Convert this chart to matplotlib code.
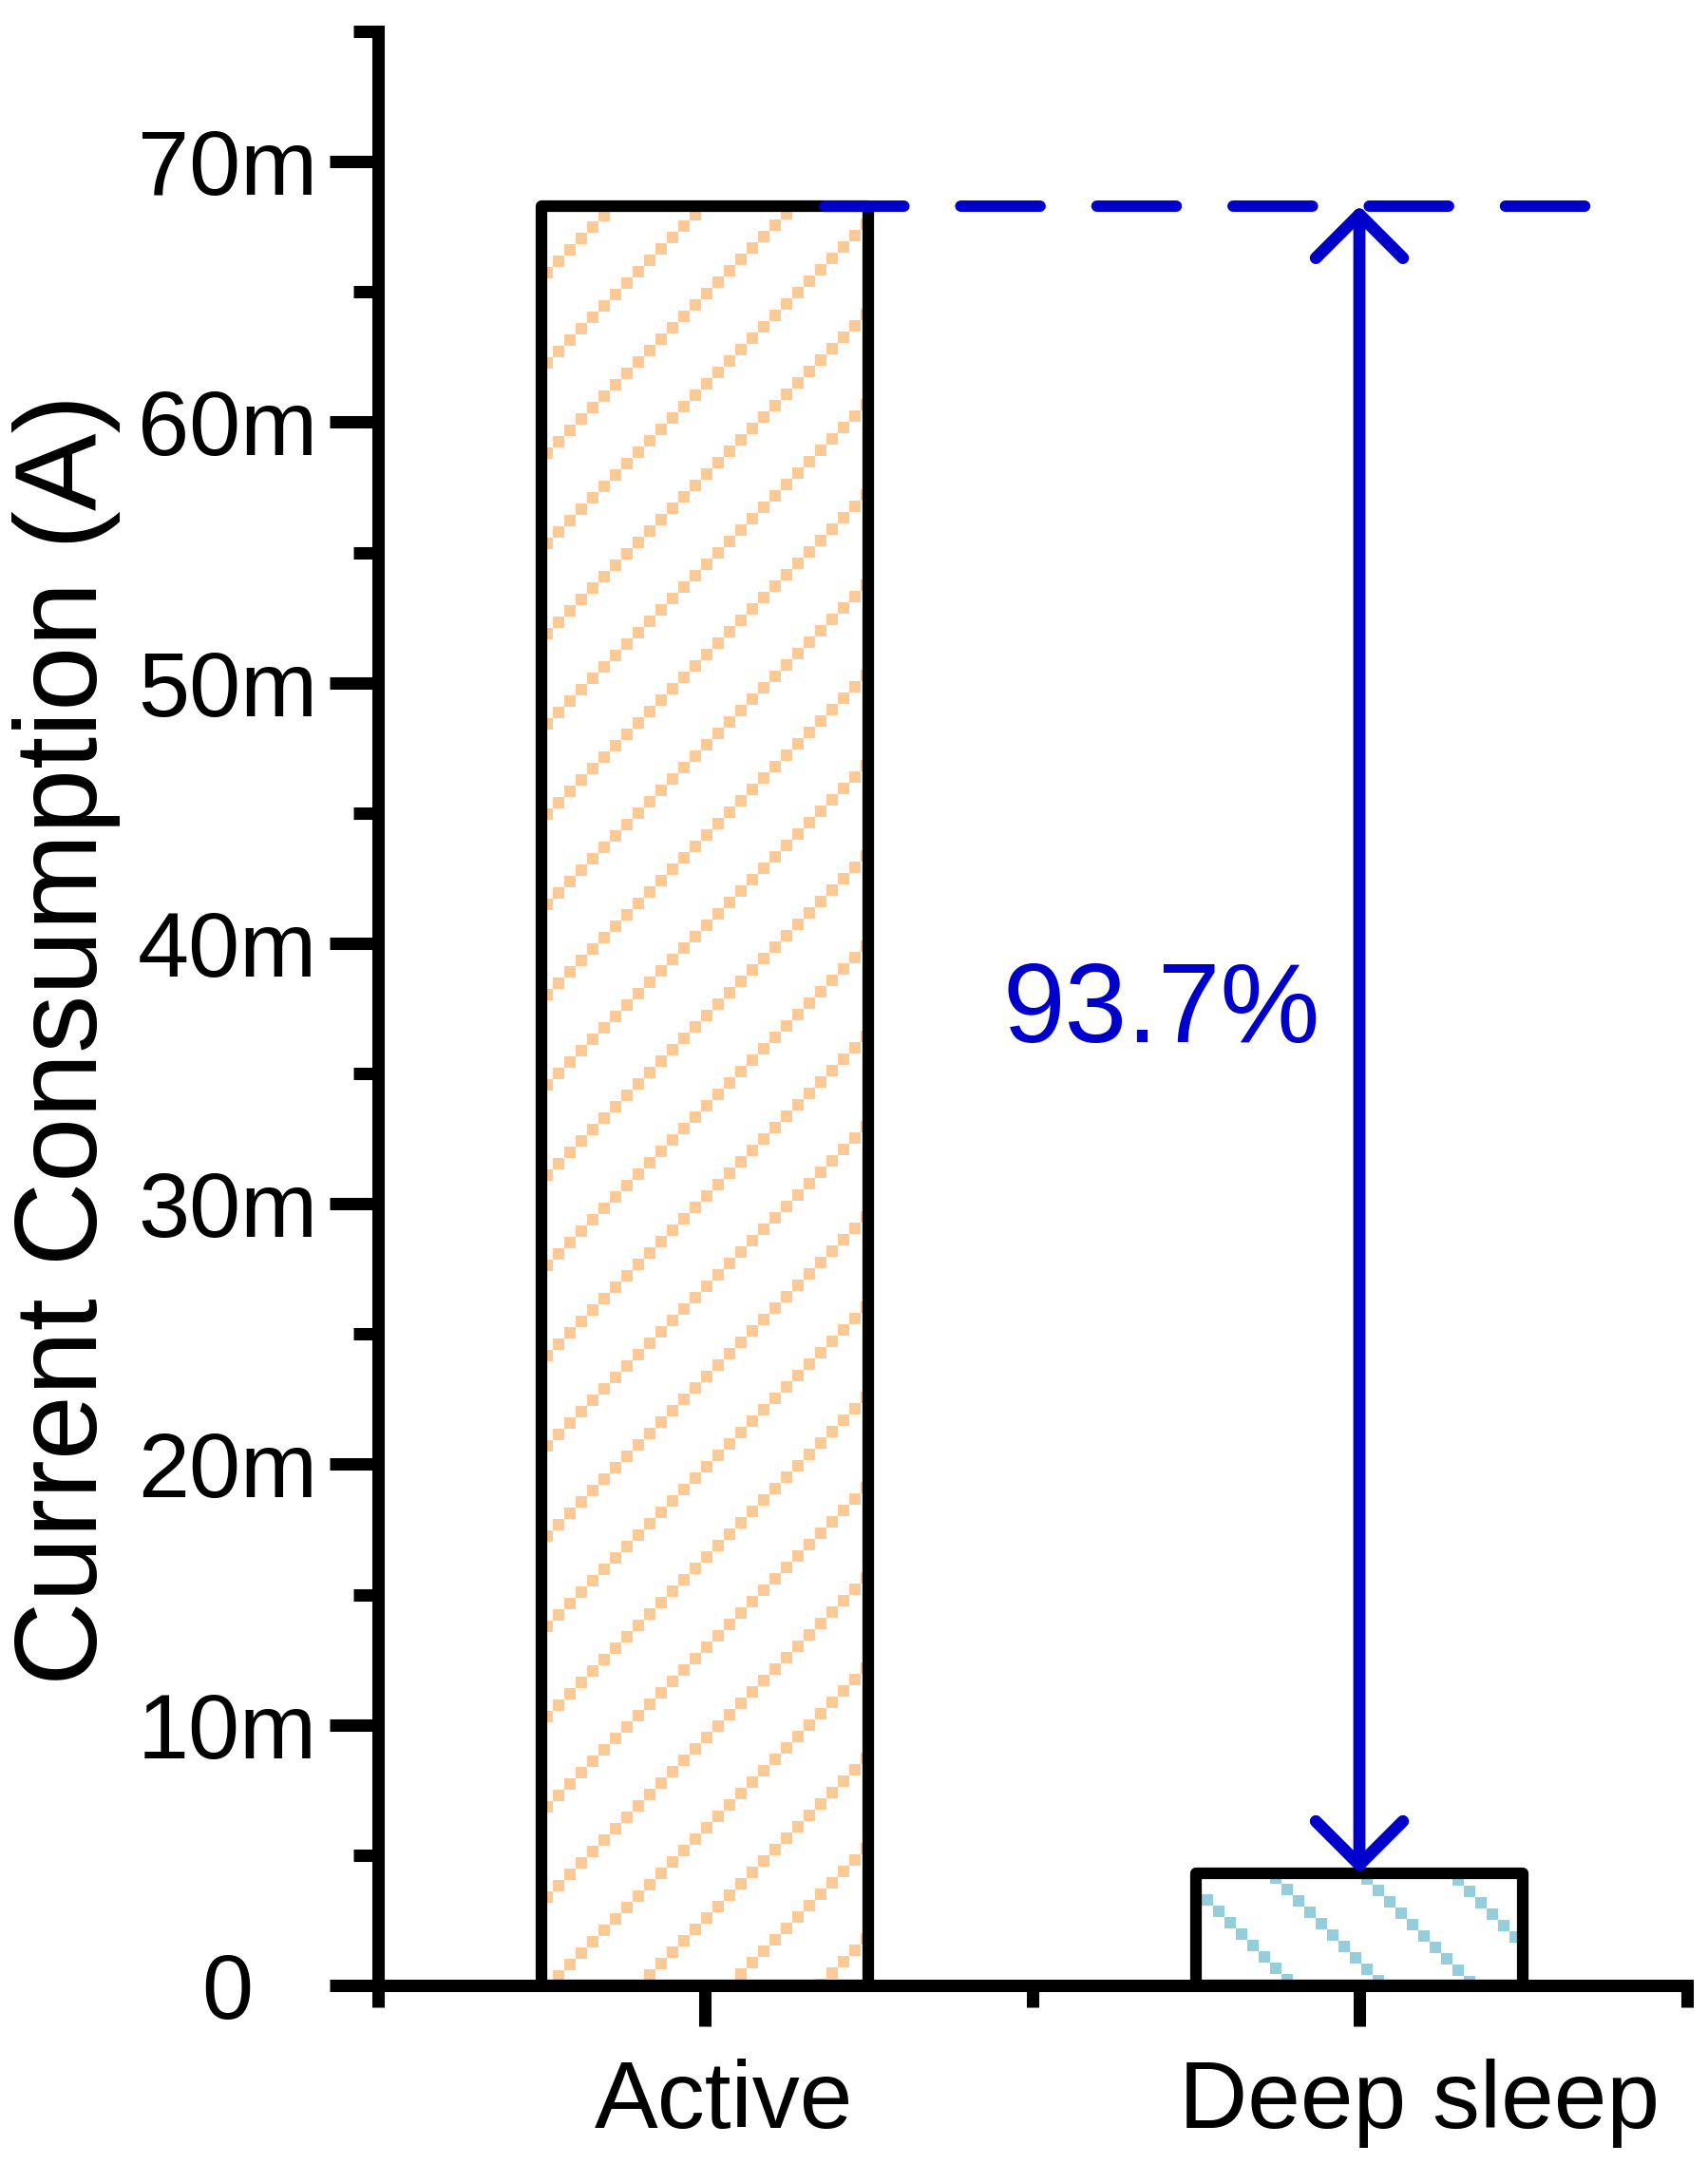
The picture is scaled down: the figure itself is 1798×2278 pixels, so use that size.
import matplotlib
matplotlib.use('Agg')
import matplotlib.pyplot as plt
import matplotlib.transforms as mtransforms
import numpy as np

# data
categories = ['Active', 'Deep sleep']
current_mA = [68.3, 4.3]
reduction_label = '93.7%'
y_ticks = [0, 10, 20, 30, 40, 50, 60, 70]
y_tick_labels = ['0', '10m', '20m', '30m', '40m', '50m', '60m', '70m']

hatch_colors = ['#FCC997', '#94CEDC']
hatch_dirs = ['/', '\\']
hatch_phase = [(66, -10), (12, -28)]   # px from bar top-left corner
label_offsets = [0.029, 0.091]
blue = '#0000CC'

plt.rcParams['font.family'] = ['Liberation Sans', 'DejaVu Sans']

W, H = 1798, 2278
fig = plt.figure(figsize=(W / 100, H / 100), dpi=100)
ax = fig.add_axes([397.5 / W, (H - 2090) / H, 1378 / W, 2057 / H])
ax.set_xlim(-0.5, 1.5)
ax.set_ylim(0, 75)

x = np.arange(len(categories))
bars = ax.bar(x, current_mA, width=0.5, facecolor='none', edgecolor='black',
              linewidth=8.8, joinstyle='round', zorder=3)


def hatch_bar(patch, color, direction, phase, step=12, spacing=95):
    # pixel-stair hatch, like the original export
    (x0, y0), (x1, y1) = ax.transData.transform(
        [(patch.get_x(), patch.get_y()),
         (patch.get_x() + patch.get_width(), patch.get_y() + patch.get_height())])
    ox, oy = x0 + phase[0], y1 + phase[1]
    X = ox + step * np.arange(np.floor((x0 - ox) / step) - 1,
                              np.ceil((x1 - ox) / step) + 2)
    pts = []
    if direction == '/':
        k0 = oy - ox
        ks = k0 + spacing * np.arange(np.floor((y0 - x1 - k0) / spacing) - 1,
                                      np.ceil((y1 - x0 - k0) / spacing) + 2)
        for k in ks:
            pts.append(np.column_stack([X, X + k]))
    else:
        k0 = oy + ox
        ks = k0 + spacing * np.arange(np.floor((x0 + y0 - k0) / spacing) - 1,
                                      np.ceil((x1 + y1 - k0) / spacing) + 2)
        for k in ks:
            pts.append(np.column_stack([X, k - X]))
    pts = np.vstack(pts)
    keep = (pts[:, 0] >= x0) & (pts[:, 0] <= x1) & \
           (pts[:, 1] >= y0) & (pts[:, 1] <= y1)
    d = ax.transData.inverted().transform(pts[keep])
    ax.plot(d[:, 0], d[:, 1], 's', ms=step * 0.72, mew=0, color=color,
            zorder=2)


for b, c, hd, ph in zip(bars, hatch_colors, hatch_dirs, hatch_phase):
    hatch_bar(b, c, hd, ph)

# dashed reference line from the Active bar top
ax.plot([x[0] + 0.183, x[1] + 0.350], [current_mA[0], current_mA[0]],
        color=blue, lw=8.6, dashes=(7, 5), dash_capstyle='round', zorder=4)

# double arrow between the two levels
ax.annotate('', xy=(x[1], current_mA[1]), xytext=(x[1], current_mA[0]),
            arrowprops=dict(arrowstyle='<->, head_length=1, head_width=1',
                            mutation_scale=33, lw=9.2, color=blue,
                            shrinkA=0, shrinkB=0, capstyle='round',
                            joinstyle='round'), zorder=5)
ax.text(0.697, 36.2, reduction_label, color=blue, fontsize=85,
        ha='center', va='baseline')

# axes styling
for s in ['top', 'right']:
    ax.spines[s].set_visible(False)
for s in ['left', 'bottom']:
    ax.spines[s].set_linewidth(9.4)
    ax.spines[s].set_capstyle('projecting')

ax.set_xticks(x)
ax.set_xticks([-0.5, 0.5, 1.5], minor=True)
ax.set_yticks(y_ticks, y_tick_labels)
ax.set_yticks(np.arange(5, 76, 10), minor=True)
ax.tick_params(axis='x', which='major', length=31, width=9.4, labelbottom=False)
ax.tick_params(axis='x', which='minor', length=16.6, width=9.4)
ax.tick_params(axis='y', which='major', length=36.7, width=9.4, pad=77,
               labelsize=70)
ax.tick_params(axis='y', which='minor', length=18.7, width=9.4)
for lab in ax.get_yticklabels():
    lab.set_ha('center')

trans = mtransforms.blended_transform_factory(ax.transData, ax.transAxes)
for i, cat in enumerate(categories):
    ax.text(x[i] + label_offsets[i], -0.0729, cat, transform=trans,
            ha='center', va='baseline', fontsize=72, clip_on=False)

fig.text(102 / W, 1 - 1094 / H, 'Current Consumption (A)', rotation=90,
         rotation_mode='anchor', ha='center', va='baseline', fontsize=88)

fig.savefig('out.png', dpi=100)
